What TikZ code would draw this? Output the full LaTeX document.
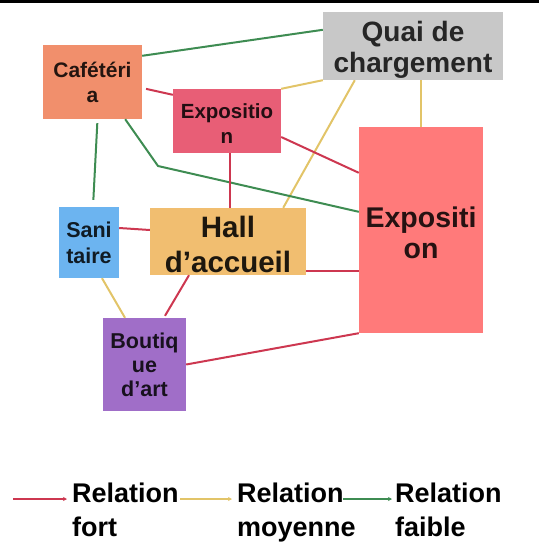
\documentclass[tikz,border=0pt]{standalone}
\usepackage{fontspec}
\setmainfont{Liberation Sans}
\usetikzlibrary{arrows.meta,calc}
\definecolor{cafc}{RGB}{241,143,108}
\definecolor{quaic}{RGB}{200,200,200}
\definecolor{expoac}{RGB}{232,94,118}
\definecolor{expobc}{RGB}{255,122,122}
\definecolor{sanic}{RGB}{108,180,240}
\definecolor{hallc}{RGB}{241,190,112}
\definecolor{boutc}{RGB}{160,110,200}
\definecolor{fortc}{RGB}{205,55,80}
\definecolor{moyc}{RGB}{226,196,104}
\definecolor{faibc}{RGB}{62,140,82}
\tikzset{
  box/.style={rectangle, inner sep=0pt, align=center},
  fs/.style n args={2}{font=\fontsize{#1}{#2}\selectfont\bfseries},
  fortl/.style={draw=fortc, line width=2pt},
  moyl/.style={draw=moyc, line width=2pt},
  faibl/.style={draw=faibc, line width=2pt},
  legl/.style={line width=2pt, -{Stealth[length=4pt,width=4pt]}},
  legt/.style={anchor=north west, inner sep=0pt, align=left, fs={27}{34}, text=black}
}
\begin{document}
\begin{tikzpicture}[x=1pt,y=-1pt]
\useasboundingbox (0,0) rectangle (539,544);
\fill[black] (0,0) rectangle (539,3);
% nodes
\node[box, fill=cafc, minimum width=99pt, minimum height=74pt, fs={21}{25}, text=cafc!15!black] (caf) at (92.5,82) {Cafétéri\\a};
\node[box, fill=quaic, minimum width=180pt, minimum height=68pt, fs={28}{31}, text=black!85] (quai) at (413,46) {\rule{0pt}{28.5pt}Quai de\\chargement};
\node[box, fill=expoac, minimum width=108pt, minimum height=64pt, fs={20.5}{25}, text=expoac!15!black] (expoa) at (227,121) {\rule{0pt}{19pt}Expositio\\n};
\node[box, fill=expobc, minimum width=124pt, minimum height=206pt, fs={28.5}{31}, text=expobc!15!black] (expob) at (421,230) {\rule{0pt}{27pt}Expositi\\on};
\node[box, fill=sanic, minimum width=60pt, minimum height=71pt, fs={21.5}{26}, text=sanic!15!black] (sani) at (89,242.5) {Sani\\taire};
\node[box, fill=hallc, minimum width=156pt, minimum height=67pt, fs={29.5}{35}, text=hallc!12!black] (hall) at (228,241.5) {\rule{0pt}{27.5pt}Hall\\d’accueil};
\node[box, fill=boutc, minimum width=83pt, minimum height=93pt, fs={21.5}{24}, text=boutc!15!black] (bout) at (144.5,364.5) {Boutiq\\ue\\d’art};
\coordinate (bend) at (158,166);
% connectors
\draw[faibl] ([yshift=-11pt]caf.north east) -- ([yshift=-18pt]quai.north west);
\draw[fortl, shorten <=4pt] ([yshift=-6pt]caf.east) -- ([yshift=-6pt]expoa.north west);
\draw[moyl] (expoa.north east) -- (quai.south west);
\draw[moyl] ([xshift=32pt]quai.south west) -- ([xshift=-23pt]hall.north east);
\draw[moyl] (expob.north |- quai.south) -- (expob.north);
\draw[fortl] ([yshift=-16pt]expoa.east) -- ([yshift=-46pt]expob.north west);
\draw[faibl] ([xshift=-17pt]caf.south east) -- (bend) -- ([yshift=-85pt]expob.north west);
\draw[faibl, shorten <=4pt, shorten >=7pt] ([xshift=5pt]caf.south) -- ([xshift=4pt]sani.north);
\draw[fortl] ([xshift=3pt]expoa.south) -- ([xshift=2pt]hall.north);
\draw[fortl] ([yshift=14.5pt]sani.east) -- ([yshift=11.5pt]hall.west);
\draw[fortl] ([yshift=4pt]hall.south east) -- ([yshift=4pt]hall.south east -| expob.west);
\draw[moyl] ([xshift=13pt]sani.south) -- ([xshift=-19.5pt]bout.north);
\draw[fortl] ([xshift=-39pt]hall.south) -- ([xshift=20.5pt, yshift=2pt]bout.north);
\draw[fortl] (bout.east) -- (expob.south west);
% legend
\node[legt] (lt1) at (72,483) {Relation\\fort};
\node[legt] (lt2) at (237,483) {Relation\\moyenne};
\node[legt] (lt3) at (395,483) {Relation\\faible};
\coordinate (la) at (13,499);
\coordinate (lb) at (180,499);
\coordinate (lc) at (343,499);
\draw[legl, fortc] (la) -- ([xshift=-5pt]la -| lt1.west);
\draw[legl, moyc] (lb) -- ([xshift=-5pt]lb -| lt2.west);
\draw[legl, faibc] (lc) -- ([xshift=-3pt]lc -| lt3.west);
\end{tikzpicture}
\end{document}
